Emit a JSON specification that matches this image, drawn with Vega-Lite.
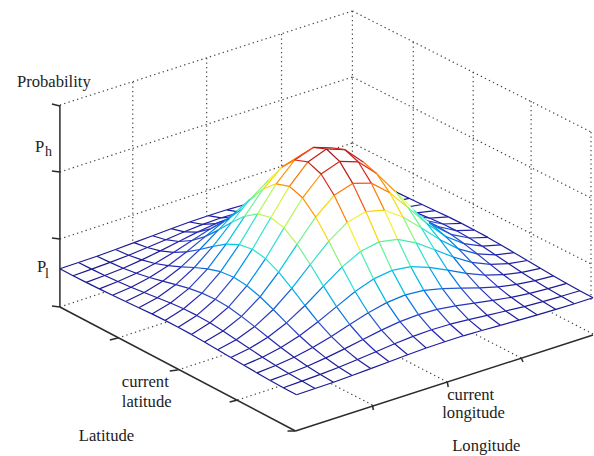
{"$schema":"https://vega.github.io/schema/vega-lite/v6.json","width":594,"height":456,"padding":0,"autosize":{"type":"fit","contains":"padding"},"background":"white","view":{"stroke":null},
"datasets":{
"grid":[{"h":60,"v":105,"h2":353,"v2":11},{"h":60,"v":172,"h2":353,"v2":77},{"h":60,"v":239,"h2":353,"v2":143},{"h":353,"v":11,"h2":592,"v2":132},{"h":353,"v":77,"h2":592,"v2":198},{"h":353,"v":143,"h2":592,"v2":264},{"h":133,"v":82,"h2":133,"v2":283},{"h":207,"v":58,"h2":207,"v2":259},{"h":282,"v":34,"h2":282,"v2":234},{"h":353,"v":11,"h2":353,"v2":210},{"h":414,"v":42,"h2":414,"v2":241},{"h":474,"v":72,"h2":474,"v2":272},{"h":532,"v":101,"h2":532,"v2":302},{"h":592,"v":132,"h2":592,"v2":300},{"h":60,"v":307,"h2":353,"v2":210},{"h":118,"v":338,"h2":415,"v2":241},{"h":178,"v":370,"h2":475,"v2":273},{"h":238,"v":400,"h2":535,"v2":303},{"h":594,"v":334,"h2":354,"v2":210},{"h":522,"v":358,"h2":282,"v2":234},{"h":448,"v":382,"h2":208,"v2":258},{"h":373,"v":405,"h2":133,"v2":281}],
"axes":[{"h":60,"v":105,"h2":60,"v2":307},{"h":60,"v":307,"h2":296,"v2":431},{"h":296,"v":431,"h2":594,"v2":335},{"h":52,"v":104,"h2":60,"v2":106},{"h":52,"v":171,"h2":60,"v2":172},{"h":52,"v":238,"h2":60,"v2":239},{"h":52,"v":306,"h2":60,"v2":307},{"h":110,"v":340,"h2":118,"v2":338},{"h":170,"v":371,"h2":178,"v2":370},{"h":230,"v":402,"h2":238,"v2":400},{"h":288,"v":431,"h2":296,"v2":431},{"h":373,"v":405,"h2":374,"v2":410},{"h":448,"v":382,"h2":449,"v2":387},{"h":522,"v":358,"h2":524,"v2":362}],
"outline":[{"h":60,"v":268.8,"v2":268.8},{"h":97,"v":256.2,"v2":287.6},{"h":134,"v":242.6,"v2":305.3},{"h":171,"v":228.7,"v2":323.3},{"h":208,"v":215.7,"v2":343.8},{"h":227,"v":209.8,"v2":355},{"h":244,"v":205.6,"v2":365},{"h":265,"v":184.5,"v2":377},{"h":285.5,"v":164.7,"v2":388.4},{"h":297,"v":156.5,"v2":394.8},{"h":306,"v":150.6,"v2":391.7},{"h":327,"v":145.4,"v2":384.6},{"h":348,"v":150.6,"v2":377.1},{"h":368.5,"v":164.7,"v2":369.6},{"h":389,"v":184.5,"v2":362},{"h":403,"v":197,"v2":356.7},{"h":410,"v":198.3,"v2":354.1},{"h":449,"v":216.9,"v2":340.6},{"h":489,"v":237.4,"v2":328.7},{"h":528,"v":260.5,"v2":317.7},{"h":568,"v":283.4,"v2":306},{"h":594,"v":297.8,"v2":297.8}],
"hill":[{"h":224.3,"v":222,"v2":352.6},{"h":227.4,"v":220,"v2":355},{"h":233.6,"v":215,"v2":359},{"h":244,"v":205.6,"v2":365},{"h":265,"v":184.5,"v2":377},{"h":285.5,"v":164.7,"v2":388.4},{"h":297,"v":156.5,"v2":394.8},{"h":306,"v":150.6,"v2":391.7},{"h":327,"v":145.4,"v2":384.6},{"h":348,"v":150.6,"v2":377.1},{"h":368.5,"v":164.7,"v2":369.6},{"h":389,"v":184.5,"v2":362},{"h":410,"v":205.6,"v2":354.1},{"h":420.4,"v":215,"v2":350.5},{"h":426.6,"v":220,"v2":348.3},{"h":429.7,"v":222,"v2":347.2}],
"labels":[{"t":"Probability","h":17,"v":87},{"t":"P","h":35,"v":152},{"t":"P","h":37,"v":272},{"t":"current","h":122,"v":387},{"t":"latitude","h":122,"v":407},{"t":"Latitude","h":79,"v":441},{"t":"current","h":448,"v":400},{"t":"longitude","h":443,"v":418},{"t":"Longitude","h":453,"v":451}],
"subs":[{"t":"h","h":45,"v":156},{"t":"l","h":45,"v":278}],
"mesh":[
{"lat":0,"lon":0,"h":60,"v":268.8,"z":0.2},{"lat":0,"lon":1,"h":78.6,"v":262.5,"z":0.4},{"lat":0,"lon":2,"h":97.1,"v":256.2,"z":0.7},{"lat":0,"lon":3,"h":115.7,"v":249.5,"z":1.3},{"lat":0,"lon":4,"h":134.3,"v":242.6,"z":2.1},{"lat":0,"lon":5,"h":152.8,"v":235.7,"z":3},{"lat":0,"lon":6,"h":171.4,"v":228.7,"z":3.9},{"lat":0,"lon":7,"h":189.9,"v":222,"z":4.6},{"lat":0,"lon":8,"h":208.5,"v":215.7,"z":4.8},{"lat":0,"lon":9,"h":227.1,"v":209.8,"z":4.6},{"lat":0,"lon":10,"h":245.6,"v":204.5,"z":3.9},{"lat":0,"lon":11,"h":264.2,"v":199.3,"z":3},{"lat":0,"lon":12,"h":282.8,"v":194.1,"z":2.1},{"lat":0,"lon":13,"h":301.3,"v":188.9,"z":1.3},{"lat":0,"lon":14,"h":319.9,"v":183.4,"z":0.7},{"lat":0,"lon":15,"h":338.4,"v":177.7,"z":0.4},{"lat":0,"lon":16,"h":357,"v":171.8,"z":0.2},
{"lat":1,"lon":0,"h":73.2,"v":275.7,"z":0.3},{"lat":1,"lon":1,"h":91.8,"v":269.1,"z":0.8},{"lat":1,"lon":2,"h":110.3,"v":262.4,"z":1.5},{"lat":1,"lon":3,"h":128.9,"v":255.2,"z":2.6},{"lat":1,"lon":4,"h":147.5,"v":247.5,"z":4.2},{"lat":1,"lon":5,"h":166,"v":239.7,"z":6},{"lat":1,"lon":6,"h":184.6,"v":231.8,"z":7.8},{"lat":1,"lon":7,"h":203.1,"v":224.4,"z":9.2},{"lat":1,"lon":8,"h":221.7,"v":217.8,"z":9.7},{"lat":1,"lon":9,"h":240.3,"v":212.2,"z":9.2},{"lat":1,"lon":10,"h":258.8,"v":207.6,"z":7.8},{"lat":1,"lon":11,"h":277.4,"v":203.3,"z":6},{"lat":1,"lon":12,"h":296,"v":199,"z":4.2},{"lat":1,"lon":13,"h":314.5,"v":194.6,"z":2.6},{"lat":1,"lon":14,"h":333.1,"v":189.6,"z":1.5},{"lat":1,"lon":15,"h":351.6,"v":184.3,"z":0.8},{"lat":1,"lon":16,"h":370.2,"v":178.7,"z":0.3},
{"lat":2,"lon":0,"h":86.3,"v":282.4,"z":0.6},{"lat":2,"lon":1,"h":104.9,"v":275.5,"z":1.4},{"lat":2,"lon":2,"h":123.4,"v":268.2,"z":2.7},{"lat":2,"lon":3,"h":142,"v":259.9,"z":4.9},{"lat":2,"lon":4,"h":160.6,"v":250.9,"z":7.8},{"lat":2,"lon":5,"h":179.1,"v":241.5,"z":11.2},{"lat":2,"lon":6,"h":197.7,"v":232.1,"z":14.5},{"lat":2,"lon":7,"h":216.2,"v":223.6,"z":17},{"lat":2,"lon":8,"h":234.8,"v":216.6,"z":17.9},{"lat":2,"lon":9,"h":253.4,"v":211.4,"z":17},{"lat":2,"lon":10,"h":271.9,"v":207.9,"z":14.5},{"lat":2,"lon":11,"h":290.5,"v":205.1,"z":11.2},{"lat":2,"lon":12,"h":309.1,"v":202.4,"z":7.8},{"lat":2,"lon":13,"h":327.6,"v":199.3,"z":4.9},{"lat":2,"lon":14,"h":346.2,"v":195.4,"z":2.7},{"lat":2,"lon":15,"h":364.7,"v":190.7,"z":1.4},{"lat":2,"lon":16,"h":383.3,"v":185.4,"z":0.6},
{"lat":3,"lon":0,"h":99.5,"v":288.9,"z":1.1},{"lat":3,"lon":1,"h":118.1,"v":281.5,"z":2.4},{"lat":3,"lon":2,"h":136.6,"v":273.2,"z":4.7},{"lat":3,"lon":3,"h":155.2,"v":263.5,"z":8.3},{"lat":3,"lon":4,"h":173.8,"v":252.4,"z":13.3},{"lat":3,"lon":5,"h":192.3,"v":240.5,"z":19.2},{"lat":3,"lon":6,"h":210.9,"v":228.8,"z":24.8},{"lat":3,"lon":7,"h":229.4,"v":218.6,"z":29},{"lat":3,"lon":8,"h":248,"v":210.9,"z":30.6},{"lat":3,"lon":9,"h":266.6,"v":206.4,"z":29},{"lat":3,"lon":10,"h":285.1,"v":204.6,"z":24.8},{"lat":3,"lon":11,"h":303.7,"v":204.1,"z":19.2},{"lat":3,"lon":12,"h":322.3,"v":203.9,"z":13.3},{"lat":3,"lon":13,"h":340.8,"v":202.9,"z":8.3},{"lat":3,"lon":14,"h":359.4,"v":200.4,"z":4.7},{"lat":3,"lon":15,"h":377.9,"v":196.7,"z":2.4},{"lat":3,"lon":16,"h":396.5,"v":191.9,"z":1.1},
{"lat":4,"lon":0,"h":112.7,"v":295.3,"z":1.7},{"lat":4,"lon":1,"h":131.3,"v":287.2,"z":3.7},{"lat":4,"lon":2,"h":149.8,"v":277.5,"z":7.4},{"lat":4,"lon":3,"h":168.4,"v":265.7,"z":13.1},{"lat":4,"lon":4,"h":187,"v":251.8,"z":20.9},{"lat":4,"lon":5,"h":205.5,"v":236.6,"z":30.1},{"lat":4,"lon":6,"h":224.1,"v":221.5,"z":39.1},{"lat":4,"lon":7,"h":242.6,"v":208.9,"z":45.7},{"lat":4,"lon":8,"h":261.2,"v":200.4,"z":48.1},{"lat":4,"lon":9,"h":279.8,"v":196.7,"z":45.7},{"lat":4,"lon":10,"h":298.3,"v":197.3,"z":39.1},{"lat":4,"lon":11,"h":316.9,"v":200.2,"z":30.1},{"lat":4,"lon":12,"h":335.5,"v":203.3,"z":20.9},{"lat":4,"lon":13,"h":354,"v":205.1,"z":13.1},{"lat":4,"lon":14,"h":372.6,"v":204.7,"z":7.4},{"lat":4,"lon":15,"h":391.1,"v":202.4,"z":3.7},{"lat":4,"lon":16,"h":409.7,"v":198.3,"z":1.7},
{"lat":5,"lon":0,"h":125.8,"v":301.5,"z":2.5},{"lat":5,"lon":1,"h":144.4,"v":292.5,"z":5.4},{"lat":5,"lon":2,"h":162.9,"v":281.2,"z":10.7},{"lat":5,"lon":3,"h":181.5,"v":266.9,"z":18.9},{"lat":5,"lon":4,"h":200.1,"v":249.5,"z":30.2},{"lat":5,"lon":5,"h":218.6,"v":230.1,"z":43.6},{"lat":5,"lon":6,"h":237.2,"v":211.1,"z":56.5},{"lat":5,"lon":7,"h":255.7,"v":195.5,"z":66.1},{"lat":5,"lon":8,"h":274.3,"v":185.9,"z":69.6},{"lat":5,"lon":9,"h":292.9,"v":183.3,"z":66.1},{"lat":5,"lon":10,"h":311.4,"v":186.9,"z":56.5},{"lat":5,"lon":11,"h":330,"v":193.7,"z":43.6},{"lat":5,"lon":12,"h":348.6,"v":201,"z":30.2},{"lat":5,"lon":13,"h":367.1,"v":206.3,"z":18.9},{"lat":5,"lon":14,"h":385.7,"v":208.4,"z":10.7},{"lat":5,"lon":15,"h":404.2,"v":207.7,"z":5.4},{"lat":5,"lon":16,"h":422.8,"v":204.5,"z":2.5},
{"lat":6,"lon":0,"h":139,"v":307.7,"z":3.3},{"lat":6,"lon":1,"h":157.6,"v":297.7,"z":7.2},{"lat":6,"lon":2,"h":176.1,"v":284.6,"z":14.3},{"lat":6,"lon":3,"h":194.7,"v":267.5,"z":25.3},{"lat":6,"lon":4,"h":213.3,"v":246.3,"z":40.4},{"lat":6,"lon":5,"h":231.8,"v":222.5,"z":58.2},{"lat":6,"lon":6,"h":250.4,"v":199.2,"z":75.4},{"lat":6,"lon":7,"h":268.9,"v":180.4,"z":88.2},{"lat":6,"lon":8,"h":287.5,"v":169.6,"z":92.9},{"lat":6,"lon":9,"h":306.1,"v":168.2,"z":88.2},{"lat":6,"lon":10,"h":324.6,"v":175,"z":75.4},{"lat":6,"lon":11,"h":343.2,"v":186.1,"z":58.2},{"lat":6,"lon":12,"h":361.8,"v":197.8,"z":40.4},{"lat":6,"lon":13,"h":380.3,"v":206.9,"z":25.3},{"lat":6,"lon":14,"h":398.9,"v":211.8,"z":14.3},{"lat":6,"lon":15,"h":417.4,"v":212.9,"z":7.2},{"lat":6,"lon":16,"h":436,"v":210.7,"z":3.3},
{"lat":7,"lon":0,"h":152.2,"v":313.9,"z":4.1},{"lat":7,"lon":1,"h":170.8,"v":303,"z":8.9},{"lat":7,"lon":2,"h":189.3,"v":288.4,"z":17.5},{"lat":7,"lon":3,"h":207.9,"v":268.8,"z":31},{"lat":7,"lon":4,"h":226.5,"v":244.1,"z":49.6},{"lat":7,"lon":5,"h":245,"v":216.3,"z":71.4},{"lat":7,"lon":6,"h":263.6,"v":189,"z":92.6},{"lat":7,"lon":7,"h":282.1,"v":167.3,"z":108.3},{"lat":7,"lon":8,"h":300.7,"v":155.4,"z":114.1},{"lat":7,"lon":9,"h":319.3,"v":155.1,"z":108.3},{"lat":7,"lon":10,"h":337.8,"v":164.8,"z":92.6},{"lat":7,"lon":11,"h":356.4,"v":179.9,"z":71.4},{"lat":7,"lon":12,"h":375,"v":195.6,"z":49.6},{"lat":7,"lon":13,"h":393.5,"v":208.2,"z":31},{"lat":7,"lon":14,"h":412.1,"v":215.6,"z":17.5},{"lat":7,"lon":15,"h":430.6,"v":218.2,"z":8.9},{"lat":7,"lon":16,"h":449.2,"v":216.9,"z":4.1},
{"lat":8,"lon":0,"h":165.3,"v":320.4,"z":4.6},{"lat":8,"lon":1,"h":183.9,"v":308.8,"z":10.1},{"lat":8,"lon":2,"h":202.4,"v":293.1,"z":19.8},{"lat":8,"lon":3,"h":221,"v":271.7,"z":35.1},{"lat":8,"lon":4,"h":239.6,"v":244.6,"z":56.1},{"lat":8,"lon":5,"h":258.1,"v":213.9,"z":80.8},{"lat":8,"lon":6,"h":276.7,"v":183.8,"z":104.8},{"lat":8,"lon":7,"h":295.2,"v":160,"z":122.6},{"lat":8,"lon":8,"h":313.8,"v":147.4,"z":129.1},{"lat":8,"lon":9,"h":332.4,"v":147.8,"z":122.6},{"lat":8,"lon":10,"h":350.9,"v":159.6,"z":104.8},{"lat":8,"lon":11,"h":369.5,"v":177.5,"z":80.8},{"lat":8,"lon":12,"h":388.1,"v":196.1,"z":56.1},{"lat":8,"lon":13,"h":406.6,"v":211.1,"z":35.1},{"lat":8,"lon":14,"h":425.2,"v":220.3,"z":19.8},{"lat":8,"lon":15,"h":443.7,"v":224,"z":10.1},{"lat":8,"lon":16,"h":462.3,"v":223.4,"z":4.6},
{"lat":9,"lon":0,"h":178.5,"v":327.2,"z":4.8},{"lat":9,"lon":1,"h":197.1,"v":315.4,"z":10.5},{"lat":9,"lon":2,"h":215.6,"v":299.3,"z":20.6},{"lat":9,"lon":3,"h":234.2,"v":277.2,"z":36.6},{"lat":9,"lon":4,"h":252.8,"v":249.2,"z":58.5},{"lat":9,"lon":5,"h":271.3,"v":217.5,"z":84.2},{"lat":9,"lon":6,"h":289.9,"v":186.4,"z":109.2},{"lat":9,"lon":7,"h":308.4,"v":161.9,"z":127.7},{"lat":9,"lon":8,"h":327,"v":149,"z":134.5},{"lat":9,"lon":9,"h":345.6,"v":149.7,"z":127.7},{"lat":9,"lon":10,"h":364.1,"v":162.2,"z":109.2},{"lat":9,"lon":11,"h":382.7,"v":181.1,"z":84.2},{"lat":9,"lon":12,"h":401.3,"v":200.7,"z":58.5},{"lat":9,"lon":13,"h":419.8,"v":216.6,"z":36.6},{"lat":9,"lon":14,"h":438.4,"v":226.5,"z":20.6},{"lat":9,"lon":15,"h":456.9,"v":230.6,"z":10.5},{"lat":9,"lon":16,"h":475.5,"v":230.2,"z":4.8},
{"lat":10,"lon":0,"h":191.7,"v":334.4,"z":4.6},{"lat":10,"lon":1,"h":210.3,"v":322.8,"z":10.1},{"lat":10,"lon":2,"h":228.8,"v":307.1,"z":19.8},{"lat":10,"lon":3,"h":247.4,"v":285.7,"z":35.1},{"lat":10,"lon":4,"h":266,"v":258.6,"z":56.1},{"lat":10,"lon":5,"h":284.5,"v":227.9,"z":80.8},{"lat":10,"lon":6,"h":303.1,"v":197.8,"z":104.8},{"lat":10,"lon":7,"h":321.6,"v":174,"z":122.6},{"lat":10,"lon":8,"h":340.2,"v":161.4,"z":129.1},{"lat":10,"lon":9,"h":358.8,"v":161.8,"z":122.6},{"lat":10,"lon":10,"h":377.3,"v":173.6,"z":104.8},{"lat":10,"lon":11,"h":395.9,"v":191.5,"z":80.8},{"lat":10,"lon":12,"h":414.5,"v":210.1,"z":56.1},{"lat":10,"lon":13,"h":433,"v":225.1,"z":35.1},{"lat":10,"lon":14,"h":451.6,"v":234.3,"z":19.8},{"lat":10,"lon":15,"h":470.1,"v":238,"z":10.1},{"lat":10,"lon":16,"h":488.7,"v":237.4,"z":4.6},
{"lat":11,"lon":0,"h":204.8,"v":341.9,"z":4.1},{"lat":11,"lon":1,"h":223.4,"v":331,"z":8.9},{"lat":11,"lon":2,"h":241.9,"v":316.4,"z":17.5},{"lat":11,"lon":3,"h":260.5,"v":296.8,"z":31},{"lat":11,"lon":4,"h":279.1,"v":272.1,"z":49.6},{"lat":11,"lon":5,"h":297.6,"v":244.3,"z":71.4},{"lat":11,"lon":6,"h":316.2,"v":217,"z":92.6},{"lat":11,"lon":7,"h":334.7,"v":195.3,"z":108.3},{"lat":11,"lon":8,"h":353.3,"v":183.4,"z":114.1},{"lat":11,"lon":9,"h":371.9,"v":183.1,"z":108.3},{"lat":11,"lon":10,"h":390.4,"v":192.8,"z":92.6},{"lat":11,"lon":11,"h":409,"v":207.9,"z":71.4},{"lat":11,"lon":12,"h":427.6,"v":223.6,"z":49.6},{"lat":11,"lon":13,"h":446.1,"v":236.2,"z":31},{"lat":11,"lon":14,"h":464.7,"v":243.6,"z":17.5},{"lat":11,"lon":15,"h":483.2,"v":246.2,"z":8.9},{"lat":11,"lon":16,"h":501.8,"v":244.9,"z":4.1},
{"lat":12,"lon":0,"h":218,"v":349.7,"z":3.3},{"lat":12,"lon":1,"h":236.6,"v":339.7,"z":7.2},{"lat":12,"lon":2,"h":255.1,"v":326.6,"z":14.3},{"lat":12,"lon":3,"h":273.7,"v":309.5,"z":25.3},{"lat":12,"lon":4,"h":292.3,"v":288.3,"z":40.4},{"lat":12,"lon":5,"h":310.8,"v":264.5,"z":58.2},{"lat":12,"lon":6,"h":329.4,"v":241.2,"z":75.4},{"lat":12,"lon":7,"h":347.9,"v":222.4,"z":88.2},{"lat":12,"lon":8,"h":366.5,"v":211.6,"z":92.9},{"lat":12,"lon":9,"h":385.1,"v":210.2,"z":88.2},{"lat":12,"lon":10,"h":403.6,"v":217,"z":75.4},{"lat":12,"lon":11,"h":422.2,"v":228.1,"z":58.2},{"lat":12,"lon":12,"h":440.8,"v":239.8,"z":40.4},{"lat":12,"lon":13,"h":459.3,"v":248.9,"z":25.3},{"lat":12,"lon":14,"h":477.9,"v":253.8,"z":14.3},{"lat":12,"lon":15,"h":496.4,"v":254.9,"z":7.2},{"lat":12,"lon":16,"h":515,"v":252.7,"z":3.3},
{"lat":13,"lon":0,"h":231.2,"v":357.5,"z":2.5},{"lat":13,"lon":1,"h":249.8,"v":348.5,"z":5.4},{"lat":13,"lon":2,"h":268.3,"v":337.2,"z":10.7},{"lat":13,"lon":3,"h":286.9,"v":322.9,"z":18.9},{"lat":13,"lon":4,"h":305.5,"v":305.5,"z":30.2},{"lat":13,"lon":5,"h":324,"v":286.1,"z":43.6},{"lat":13,"lon":6,"h":342.6,"v":267.1,"z":56.5},{"lat":13,"lon":7,"h":361.1,"v":251.5,"z":66.1},{"lat":13,"lon":8,"h":379.7,"v":241.9,"z":69.6},{"lat":13,"lon":9,"h":398.3,"v":239.3,"z":66.1},{"lat":13,"lon":10,"h":416.8,"v":242.9,"z":56.5},{"lat":13,"lon":11,"h":435.4,"v":249.7,"z":43.6},{"lat":13,"lon":12,"h":454,"v":257,"z":30.2},{"lat":13,"lon":13,"h":472.5,"v":262.3,"z":18.9},{"lat":13,"lon":14,"h":491.1,"v":264.4,"z":10.7},{"lat":13,"lon":15,"h":509.6,"v":263.7,"z":5.4},{"lat":13,"lon":16,"h":528.2,"v":260.5,"z":2.5},
{"lat":14,"lon":0,"h":244.3,"v":365.3,"z":1.7},{"lat":14,"lon":1,"h":262.9,"v":357.2,"z":3.7},{"lat":14,"lon":2,"h":281.4,"v":347.5,"z":7.4},{"lat":14,"lon":3,"h":300,"v":335.7,"z":13.1},{"lat":14,"lon":4,"h":318.6,"v":321.8,"z":20.9},{"lat":14,"lon":5,"h":337.1,"v":306.6,"z":30.1},{"lat":14,"lon":6,"h":355.7,"v":291.5,"z":39.1},{"lat":14,"lon":7,"h":374.2,"v":278.9,"z":45.7},{"lat":14,"lon":8,"h":392.8,"v":270.4,"z":48.1},{"lat":14,"lon":9,"h":411.4,"v":266.7,"z":45.7},{"lat":14,"lon":10,"h":429.9,"v":267.3,"z":39.1},{"lat":14,"lon":11,"h":448.5,"v":270.2,"z":30.1},{"lat":14,"lon":12,"h":467.1,"v":273.3,"z":20.9},{"lat":14,"lon":13,"h":485.6,"v":275.1,"z":13.1},{"lat":14,"lon":14,"h":504.2,"v":274.7,"z":7.4},{"lat":14,"lon":15,"h":522.7,"v":272.4,"z":3.7},{"lat":14,"lon":16,"h":541.3,"v":268.3,"z":1.7},
{"lat":15,"lon":0,"h":257.5,"v":372.9,"z":1.1},{"lat":15,"lon":1,"h":276.1,"v":365.5,"z":2.4},{"lat":15,"lon":2,"h":294.6,"v":357.2,"z":4.7},{"lat":15,"lon":3,"h":313.2,"v":347.5,"z":8.3},{"lat":15,"lon":4,"h":331.8,"v":336.4,"z":13.3},{"lat":15,"lon":5,"h":350.3,"v":324.5,"z":19.2},{"lat":15,"lon":6,"h":368.9,"v":312.8,"z":24.8},{"lat":15,"lon":7,"h":387.4,"v":302.6,"z":29},{"lat":15,"lon":8,"h":406,"v":294.9,"z":30.6},{"lat":15,"lon":9,"h":424.6,"v":290.4,"z":29},{"lat":15,"lon":10,"h":443.1,"v":288.6,"z":24.8},{"lat":15,"lon":11,"h":461.7,"v":288.1,"z":19.2},{"lat":15,"lon":12,"h":480.3,"v":287.9,"z":13.3},{"lat":15,"lon":13,"h":498.8,"v":286.9,"z":8.3},{"lat":15,"lon":14,"h":517.4,"v":284.4,"z":4.7},{"lat":15,"lon":15,"h":535.9,"v":280.7,"z":2.4},{"lat":15,"lon":16,"h":554.5,"v":275.9,"z":1.1},
{"lat":16,"lon":0,"h":270.7,"v":380.4,"z":0.6},{"lat":16,"lon":1,"h":289.3,"v":373.5,"z":1.4},{"lat":16,"lon":2,"h":307.8,"v":366.2,"z":2.7},{"lat":16,"lon":3,"h":326.4,"v":357.9,"z":4.9},{"lat":16,"lon":4,"h":345,"v":348.9,"z":7.8},{"lat":16,"lon":5,"h":363.5,"v":339.5,"z":11.2},{"lat":16,"lon":6,"h":382.1,"v":330.1,"z":14.5},{"lat":16,"lon":7,"h":400.6,"v":321.6,"z":17},{"lat":16,"lon":8,"h":419.2,"v":314.6,"z":17.9},{"lat":16,"lon":9,"h":437.8,"v":309.4,"z":17},{"lat":16,"lon":10,"h":456.3,"v":305.9,"z":14.5},{"lat":16,"lon":11,"h":474.9,"v":303.1,"z":11.2},{"lat":16,"lon":12,"h":493.5,"v":300.4,"z":7.8},{"lat":16,"lon":13,"h":512,"v":297.3,"z":4.9},{"lat":16,"lon":14,"h":530.6,"v":293.4,"z":2.7},{"lat":16,"lon":15,"h":549.1,"v":288.7,"z":1.4},{"lat":16,"lon":16,"h":567.7,"v":283.4,"z":0.6},
{"lat":17,"lon":0,"h":283.8,"v":387.7,"z":0.3},{"lat":17,"lon":1,"h":302.4,"v":381.1,"z":0.8},{"lat":17,"lon":2,"h":320.9,"v":374.4,"z":1.5},{"lat":17,"lon":3,"h":339.5,"v":367.2,"z":2.6},{"lat":17,"lon":4,"h":358.1,"v":359.5,"z":4.2},{"lat":17,"lon":5,"h":376.6,"v":351.7,"z":6},{"lat":17,"lon":6,"h":395.2,"v":343.8,"z":7.8},{"lat":17,"lon":7,"h":413.7,"v":336.4,"z":9.2},{"lat":17,"lon":8,"h":432.3,"v":329.8,"z":9.7},{"lat":17,"lon":9,"h":450.9,"v":324.2,"z":9.2},{"lat":17,"lon":10,"h":469.4,"v":319.6,"z":7.8},{"lat":17,"lon":11,"h":488,"v":315.3,"z":6},{"lat":17,"lon":12,"h":506.6,"v":311,"z":4.2},{"lat":17,"lon":13,"h":525.1,"v":306.6,"z":2.6},{"lat":17,"lon":14,"h":543.7,"v":301.6,"z":1.5},{"lat":17,"lon":15,"h":562.2,"v":296.3,"z":0.8},{"lat":17,"lon":16,"h":580.8,"v":290.7,"z":0.3},
{"lat":18,"lon":0,"h":297,"v":394.8,"z":0.2},{"lat":18,"lon":1,"h":315.6,"v":388.5,"z":0.4},{"lat":18,"lon":2,"h":334.1,"v":382.2,"z":0.7},{"lat":18,"lon":3,"h":352.7,"v":375.5,"z":1.3},{"lat":18,"lon":4,"h":371.3,"v":368.6,"z":2.1},{"lat":18,"lon":5,"h":389.8,"v":361.7,"z":3},{"lat":18,"lon":6,"h":408.4,"v":354.7,"z":3.9},{"lat":18,"lon":7,"h":426.9,"v":348,"z":4.6},{"lat":18,"lon":8,"h":445.5,"v":341.7,"z":4.8},{"lat":18,"lon":9,"h":464.1,"v":335.8,"z":4.6},{"lat":18,"lon":10,"h":482.6,"v":330.5,"z":3.9},{"lat":18,"lon":11,"h":501.2,"v":325.3,"z":3},{"lat":18,"lon":12,"h":519.8,"v":320.1,"z":2.1},{"lat":18,"lon":13,"h":538.3,"v":314.9,"z":1.3},{"lat":18,"lon":14,"h":556.9,"v":309.4,"z":0.7},{"lat":18,"lon":15,"h":575.4,"v":303.7,"z":0.4},{"lat":18,"lon":16,"h":594,"v":297.8,"z":0.2}
]},
"encoding":{"x":{"field":"h","type":"quantitative","scale":{"domain":[0,594],"nice":false,"zero":false},"axis":null},"y":{"field":"v","type":"quantitative","scale":{"domain":[456,0],"nice":false,"zero":false},"axis":null}},
"layer":[
{"data":{"name":"grid"},"mark":{"type":"rule","stroke":"#444444","strokeWidth":1.2,"strokeDash":[1.3,3.2]},"encoding":{"x2":{"field":"h2"},"y2":{"field":"v2"}}},
{"data":{"name":"outline"},"mark":{"type":"area","fill":"white","orient":"vertical"},"encoding":{"y2":{"field":"v2"}}},
{"data":{"name":"mesh"},"transform":[{"window":[{"op":"lead","field":"h","as":"h2"},{"op":"lead","field":"v","as":"v2"}],"groupby":["lat"],"sort":[{"field":"lon"}]},{"filter":"datum.h2 != null && .78*(datum.lat/18-.5)-.62*(datum.lon/16-.5) < -(.05+.14*pow((.62*(datum.lat/18-.5)+.78*(datum.lon/16-.5))/.274,6))"}],"mark":{"type":"rule","strokeWidth":1.2},"encoding":{"x2":{"field":"h2"},"y2":{"field":"v2"},"color":{"field":"z","type":"quantitative","legend":null,"scale":{"domain":[0,10,24,55,88,118,134.5],"range":["#17178f","#2222b0","#2f55d0","#35dcd8","#f4f030","#f03020","#a01010"]}}}},
{"data":{"name":"mesh"},"transform":[{"window":[{"op":"lead","field":"h","as":"h2"},{"op":"lead","field":"v","as":"v2"}],"groupby":["lon"],"sort":[{"field":"lat"}]},{"filter":"datum.h2 != null && .0433+.78*(datum.lat/18-.5)-.62*(datum.lon/16-.5) < -(.05+.14*pow((.62*(datum.lat/18-.5)+.78*(datum.lon/16-.5))/.274,6))"}],"mark":{"type":"rule","strokeWidth":1.2},"encoding":{"x2":{"field":"h2"},"y2":{"field":"v2"},"color":{"field":"z","type":"quantitative","legend":null}}},
{"data":{"name":"hill"},"mark":{"type":"area","fill":"white","orient":"vertical"},"encoding":{"y2":{"field":"v2"}}},
{"data":{"name":"mesh"},"transform":[{"window":[{"op":"lead","field":"h","as":"h2"},{"op":"lead","field":"v","as":"v2"}],"groupby":["lat"],"sort":[{"field":"lon"}]},{"filter":"datum.h2 != null && .78*(datum.lat/18-.5)-.62*(datum.lon/16-.5) >= -(.05+.14*pow((.62*(datum.lat/18-.5)+.78*(datum.lon/16-.5))/.274,6))"}],"mark":{"type":"rule","strokeWidth":1.2},"encoding":{"x2":{"field":"h2"},"y2":{"field":"v2"},"color":{"field":"z","type":"quantitative","legend":null}}},
{"data":{"name":"mesh"},"transform":[{"window":[{"op":"lead","field":"h","as":"h2"},{"op":"lead","field":"v","as":"v2"}],"groupby":["lon"],"sort":[{"field":"lat"}]},{"filter":"datum.h2 != null && .0433+.78*(datum.lat/18-.5)-.62*(datum.lon/16-.5) >= -(.05+.14*pow((.62*(datum.lat/18-.5)+.78*(datum.lon/16-.5))/.274,6))"}],"mark":{"type":"rule","strokeWidth":1.2},"encoding":{"x2":{"field":"h2"},"y2":{"field":"v2"},"color":{"field":"z","type":"quantitative","legend":null}}},
{"data":{"name":"axes"},"mark":{"type":"rule","stroke":"#2b2b2b","strokeWidth":1.5},"encoding":{"x2":{"field":"h2"},"y2":{"field":"v2"}}},
{"data":{"name":"labels"},"mark":{"type":"text","font":"Liberation Serif","fontSize":16.6,"align":"left","baseline":"alphabetic","color":"#222222"},"encoding":{"text":{"field":"t"}}},
{"data":{"name":"subs"},"mark":{"type":"text","font":"Liberation Serif","fontSize":14,"align":"left","baseline":"alphabetic","color":"#222222"},"encoding":{"text":{"field":"t"}}}
]}
